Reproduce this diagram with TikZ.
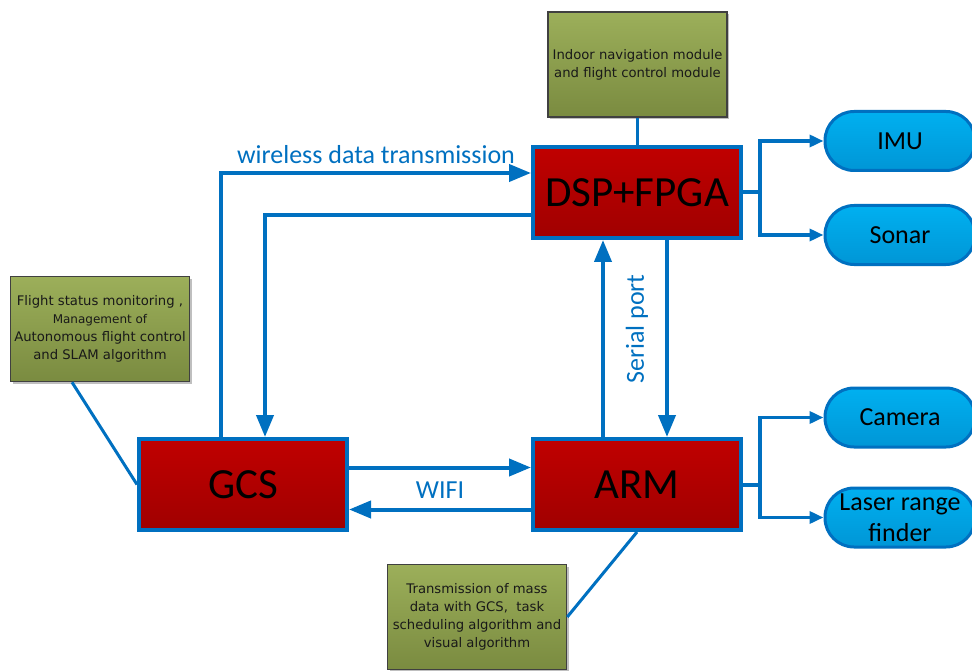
\documentclass[tikz,border=0pt]{standalone}
\usepackage{fontspec}
\setmainfont{Carlito}
\newfontfamily\notefont{DejaVu Sans}
\usetikzlibrary{arrows.meta}
\usetikzlibrary{positioning}
\usetikzlibrary{shadows}

\definecolor{linkblue}{HTML}{0070C0}
\definecolor{unitred}{HTML}{C00000}
\definecolor{unitreddark}{HTML}{A00000}
\definecolor{noteolive}{HTML}{9CAF5A}
\definecolor{noteolivedark}{HTML}{7A8B40}
\definecolor{sensorblue}{HTML}{00B0F0}
\definecolor{sensorbluedark}{HTML}{0096D6}

\begin{document}
\begin{tikzpicture}[x=1pt,y=-1pt,
  unit/.style={draw=linkblue,line width=4pt,rectangle,top color=unitred,bottom color=unitreddark,minimum width=208pt,minimum height=91pt,inner sep=0pt,font=\fontsize{43}{48}\selectfont},
  note/.style={draw=black!75,line width=1.5pt,rectangle,top color=noteolive,bottom color=noteolivedark,minimum width=179pt,minimum height=105pt,inner sep=0pt,align=center,text=black!90,font=\notefont\fontsize{13.2}{18}\selectfont,drop shadow={shadow xshift=2pt,shadow yshift=-2pt,fill=black,opacity=0.25}},
  sensor/.style={draw=linkblue,line width=3pt,rectangle,rounded corners=29pt,top color=sensorblue,bottom color=sensorbluedark,minimum width=150pt,minimum height=59pt,inner sep=0pt,align=center,font=\fontsize{26}{31}\selectfont},
  link/.style={draw=linkblue,line width=4pt},
  flow/.style={link,-{Triangle[length=22pt,width=17pt]}},
  feed/.style={draw=linkblue,line width=3.5pt,-{Triangle[length=14pt,width=12pt]}},
  tie/.style={draw=linkblue,line width=3pt},
  lab/.style={text=linkblue,inner sep=0pt,font=\fontsize{26}{30}\selectfont}]

  \clip (0,0) rectangle (972,671);

  \node [unit] (dsp) at (637,192.5) {DSP+FPGA};
  \node [unit] (arm) at (637,484.5) {ARM};
  \node [unit] (gcs) at (243,484.5) {GCS};

  \node [note] (nav) at (637.5,64.5) {Indoor navigation module\\and flight control module};
  \node [note] (mon) at (100,329) {Flight status monitoring ,\\{\fontsize{12}{18}\selectfont Management of}\\Autonomous flight control\\and SLAM algorithm};
  \node [note] (task) at (477,617) {Transmission of mass\\data with GCS,~ task\\scheduling algorithm and\\visual algorithm};

  \node [sensor] (imu) at (900,141) {IMU};
  \node [sensor,below=32pt of imu] (sonar) {Sonar};
  \node [sensor] (camera) at (900,417.5) {Camera};
  \node [sensor,below=38pt of camera] (laser) {Laser range\\finder};

  \coordinate (dspfork) at (760,192.5);
  \coordinate (armfork) at (760,484.5);

  \path [link] (dsp.east) -- (dspfork);
  \path [feed] (dspfork) |- (imu.west);
  \path [feed] (dspfork) |- (sonar.west);
  \path [link] (arm.east) -- (armfork);
  \path [feed] (armfork) |- (camera.west);
  \path [feed] (armfork) |- (laser.west);

  \path [flow] ([xshift=-22pt]gcs.north) |- ([yshift=19.5pt]dsp.west);
  \path [flow] ([yshift=-22.5pt]dsp.west) -| ([xshift=22pt]gcs.north);
  \path [flow] ([yshift=17pt]gcs.east) -- ([yshift=17pt]arm.west);
  \path [flow] ([yshift=-25pt]arm.west) -- ([yshift=-25pt]gcs.east);
  \path [flow] ([xshift=-34pt]arm.north) -- ([xshift=-34pt]dsp.south);
  \path [flow] ([xshift=30pt]dsp.south) -- ([xshift=30pt]arm.north);

  \path [tie] (nav.south) -- (nav.south |- dsp.north);
  \path [tie] ([xshift=-28pt]mon.south) -- (gcs.west);
  \path [tie] (task.east) -- (arm.south);

  \node [lab] (wireless) at (376,155) {wireless data transmission};
  \node [lab] (wifi) at (440,490) {WIFI};
  \node [lab,rotate=90] (serial) at (637,329) {Serial port};
\end{tikzpicture}
\end{document}
